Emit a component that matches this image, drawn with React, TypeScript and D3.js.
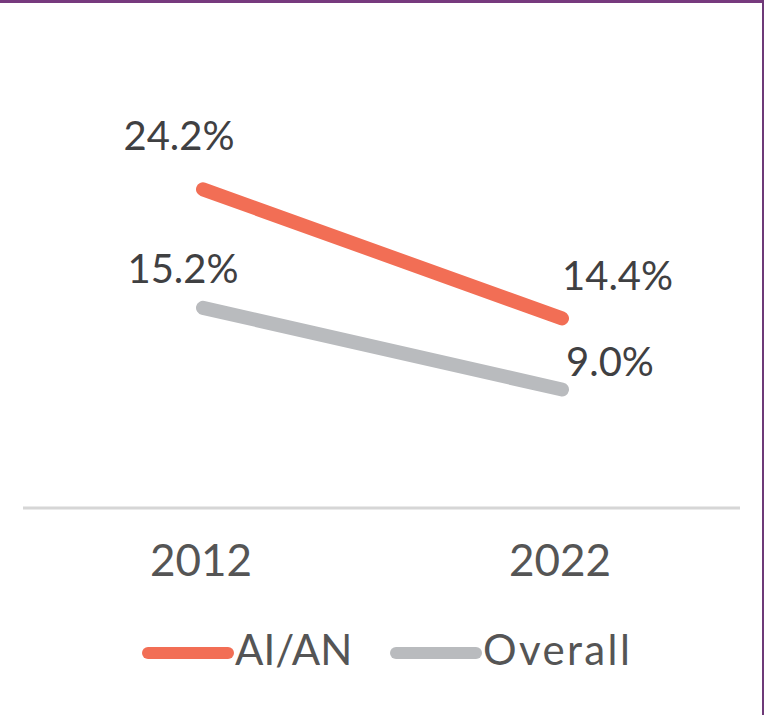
import React from "react";
import * as d3 from "d3";

const years = ["2012", "2022"];
const seriesNames = ["AI/AN", "Overall"];
const aianValues = [24.2, 14.4];
const overallValues = [15.2, 9.0];
const colors = ["#F26E55", "#B9BBBE"];

const W = 764;
const H = 715;
const FONT = "Lato, 'Open Sans', sans-serif";

export default function App() {
  const x = d3.scalePoint<string>().domain(years).range([203, 562]);
  const y = d3.scaleLinear().domain([0, 36]).range([508, 34]);
  const series = [aianValues, overallValues];
  const line = d3
    .line<number>()
    .x((_, i) => x(years[i]) as number)
    .y((d) => y(d));

  // label offsets relative to each point: [dx, dy, anchor]
  const labelPos: [number, number, string][][] = [
    [[-24, -39, "middle"], [0, -28, "start"]],
    [[-20, -25, "middle"], [4, -14, "start"]],
  ];
  const legendSpacing = [0, 2.4];

  return (
    <div style={{ position: "absolute", left: 0, top: 0 }}>
      <svg width={W} height={H} style={{ display: "block" }}>
        <rect x={0} y={0} width={W} height={H} fill="#ffffff" />
        <rect x={0} y={0} width={W} height={3} fill="#773A7E" />
        <rect x={762} y={0} width={2} height={H} fill="#6E3A78" />
        <line x1={23} x2={740} y1={y(0)} y2={y(0)} stroke="#D6D6D6" strokeWidth={3} />
        {years.map((yr) => (
          <text
            key={yr}
            x={(x(yr) as number) - 2}
            y={576}
            textAnchor="middle"
            fontFamily={FONT}
            fontSize={44}
            fill="#555555"
          >
            {yr}
          </text>
        ))}
        {series.map((vals, si) => (
          <path
            key={si}
            d={line(vals) || ""}
            fill="none"
            stroke={colors[si]}
            strokeWidth={14}
            strokeLinecap="round"
          />
        ))}
        {series.map((vals, si) =>
          vals.map((v, i) => {
            const [dx, dy, anchor] = labelPos[si][i];
            return (
              <text
                key={`${si}-${i}`}
                x={(x(years[i]) as number) + dx}
                y={y(v) + dy}
                textAnchor={anchor as any}
                fontFamily={FONT}
                fontSize={40}
                fill="#3F4042"
              >
                {v.toFixed(1)}%
              </text>
            );
          })
        )}
        {seriesNames.map((name, i) => {
          const x0 = i === 0 ? 148 : 396;
          return (
            <g key={name}>
              <line
                x1={x0}
                x2={x0 + 80}
                y1={653}
                y2={653}
                stroke={colors[i]}
                strokeWidth={12}
                strokeLinecap="round"
              />
              <text
                x={x0 + 87}
                y={665}
                fontFamily={FONT}
                fontSize={42}
                letterSpacing={legendSpacing[i]}
                fill="#555555"
              >
                {name}
              </text>
            </g>
          );
        })}
      </svg>
    </div>
  );
}
